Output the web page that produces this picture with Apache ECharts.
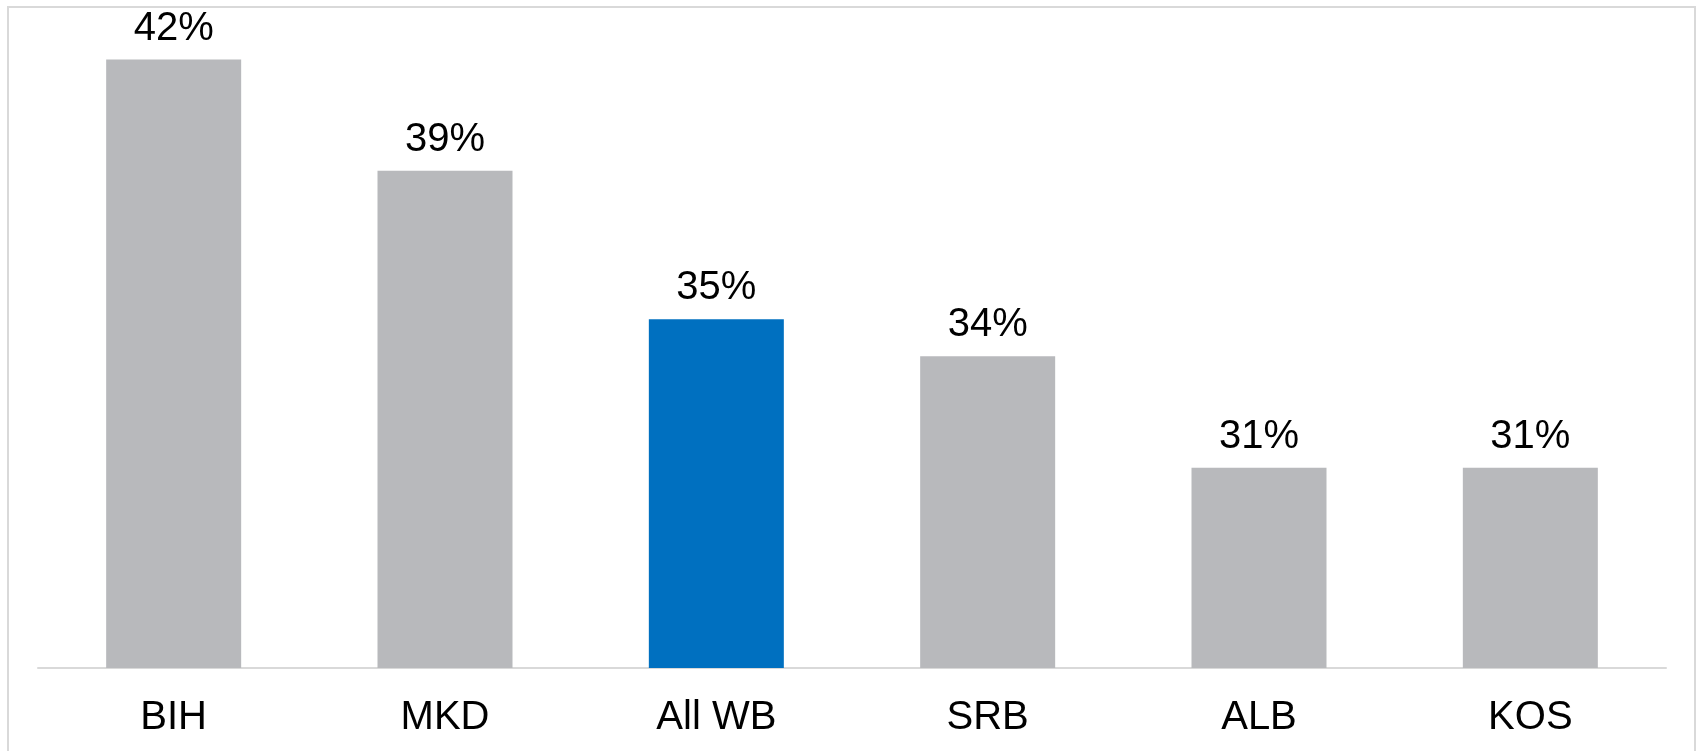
<!DOCTYPE html>
<html>
<head>
<meta charset="utf-8">
<style>
  html, body { margin: 0; padding: 0; background: #ffffff; }
  #chart { width: 1696px; height: 751px; }
</style>
<script src="https://cdn.jsdelivr.net/npm/echarts@6/dist/echarts.min.js"></script>
</head>
<body>
<div id="chart"></div>
<script>
// Share by economy, in percent
const categories = ['BIH', 'MKD', 'All WB', 'SRB', 'ALB', 'KOS'];
const values = [42, 39, 35, 34, 31, 31];
// The regional aggregate is highlighted
const highlighted = 'All WB';

const GREY = '#b8b9bc';
const BLUE = '#0070c0';
const FONT = '"Liberation Sans", Arial, Helvetica, sans-serif';

const chart = echarts.init(document.getElementById('chart'), null, { renderer: 'canvas' });

chart.setOption({
  animation: false,
  backgroundColor: '#ffffff',
  graphic: [{
    type: 'rect',
    silent: true,
    shape: { x: 8, y: 7, width: 1687, height: 770 },
    style: { fill: 'none', stroke: '#d9d9d9', lineWidth: 2 }
  }],
  grid: { left: 38, right: 30, top: 28, bottom: 83, containLabel: false },
  xAxis: {
    type: 'category',
    data: categories,
    axisLine: { show: true, lineStyle: { color: '#d9d9d9', width: 2 } },
    axisTick: { show: false },
    axisLabel: {
      color: '#000000',
      fontFamily: FONT,
      fontSize: 40,
      margin: 30
    }
  },
  yAxis: {
    type: 'value',
    min: 25.6,
    max: 42.85,
    show: false,
    splitLine: { show: false }
  },
  series: [{
    type: 'bar',
    barWidth: 135,
    data: values.map((v, i) => ({
      value: v,
      itemStyle: { color: categories[i] === highlighted ? BLUE : GREY }
    })),
    label: {
      show: true,
      position: 'top',
      distance: 11,
      color: '#000000',
      fontFamily: FONT,
      fontSize: 40,
      formatter: p => p.value + '%'
    }
  }]
});
</script>
</body>
</html>
